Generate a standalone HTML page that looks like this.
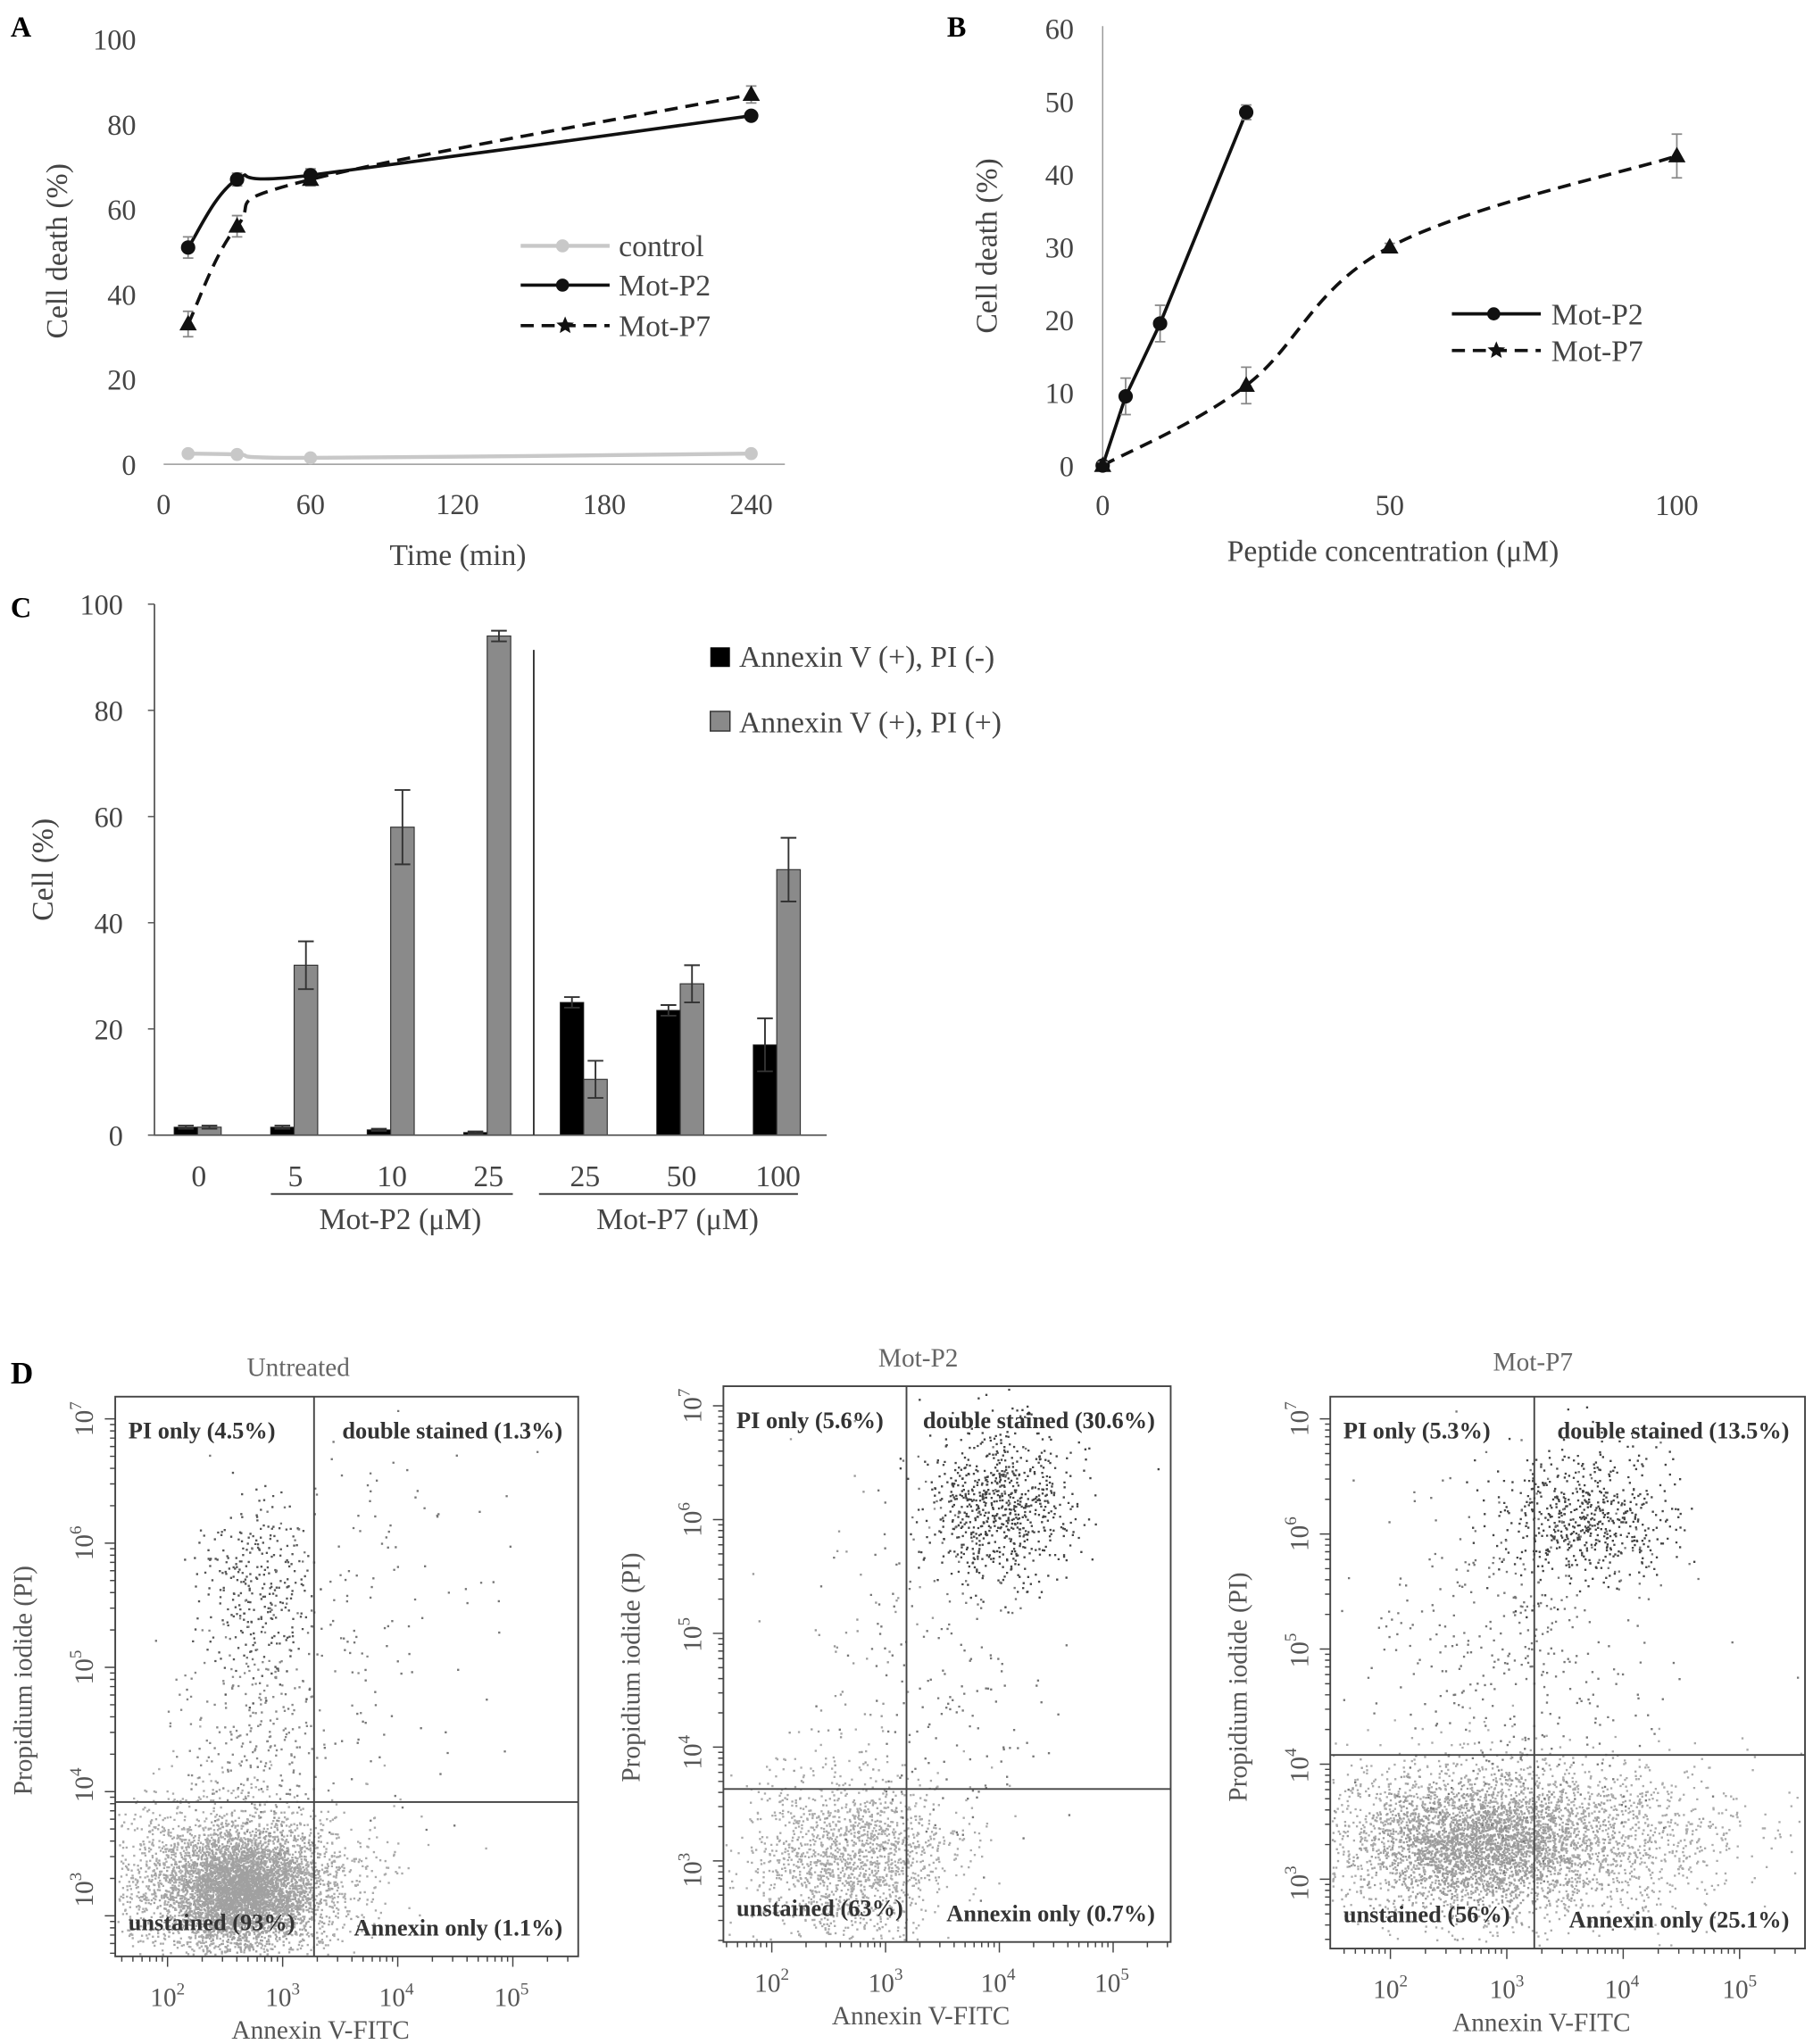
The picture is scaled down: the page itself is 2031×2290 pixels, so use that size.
<!DOCTYPE html>
<html><head><meta charset="utf-8"><style>
html,body{margin:0;padding:0;background:#fff}
svg{display:block}
text{font-family:"Liberation Serif",serif}
</style></head><body>
<svg id="fig" width="2031" height="2290" viewBox="0 0 1386 1563" xmlns="http://www.w3.org/2000/svg">
<g id="gA"></g>
<g id="gB"></g>
<g id="gC"></g>
<g id="gD"></g>
</svg>
<script>
// ---------- Panel A data ----------
const timeA = [10, 30, 60, 240];
const controlA = [2.5, 2.3, 1.5, 2.5];
const p2A = [51, 67, 68, 82];
const p7A = [33, 56, 67, 87];
const p2AErr = [2.5, 1.5, 1.5, 1];
const p7AErr = [3, 2.5, 1.5, 2];
const xTicksA = [0, 60, 120, 180, 240];
const yTicksA = [0, 20, 40, 60, 80, 100];
// ---------- Panel B data ----------
const concP2 = [0, 4, 10, 25];
const p2B = [0, 9.5, 19.5, 48.5];
const p2BErr = [0.5, 2.5, 2.5, 1];
const concP7 = [0, 25, 50, 100];
const p7B = [0, 11, 30, 42.5];
const p7BErr = [0.5, 2.5, 0.5, 3];
const xTicksB = [0, 50, 100];
const yTicksB = [0, 10, 20, 30, 40, 50, 60];
// ---------- Panel C data ----------
const catsC = ["0", "5", "10", "25", "25", "50", "100"];
const blackC = [1.5, 1.5, 1, 0.5, 25, 23.5, 17];
const blackCErr = [0.3, 0.3, 0.2, 0.2, 1, 1, 5];
const grayC = [1.5, 32, 58, 94, 10.5, 28.5, 50];
const grayCErr = [0.3, 4.5, 7, 1, 3.5, 3.5, 6];
const yTicksC = [0, 20, 40, 60, 80, 100];

const NS = "http://www.w3.org/2000/svg";
function el(parent, tag, attrs, txt) {
  const e = document.createElementNS(NS, tag);
  for (const k in attrs) e.setAttribute(k, attrs[k]);
  if (txt !== undefined) e.textContent = txt;
  parent.appendChild(e);
  return e;
}
function smooth(pts) {
  let d = "M" + pts[0][0] + "," + pts[0][1];
  for (let i = 0; i < pts.length - 1; i++) {
    const p0 = pts[i - 1] || pts[i], p1 = pts[i], p2 = pts[i + 1], p3 = pts[i + 2] || p2;
    const t = 0.18;
    const c1 = [p1[0] + (p2[0] - p0[0]) * t, p1[1] + (p2[1] - p0[1]) * t];
    const c2 = [p2[0] - (p3[0] - p1[0]) * t, p2[1] - (p3[1] - p1[1]) * t];
    d += " C" + c1 + " " + c2 + " " + p2;
  }
  return d;
}
function star(cx, cy, r) {
  let d = "";
  for (let i = 0; i < 10; i++) {
    const a = -Math.PI / 2 + i * Math.PI / 5, rr = i % 2 ? r * 0.45 : r;
    d += (i ? "L" : "M") + (cx + rr * Math.cos(a)).toFixed(1) + "," + (cy + rr * Math.sin(a)).toFixed(1);
  }
  return d + "Z";
}
function tri(cx, cy, r) { return `M${cx},${cy - r}L${cx + r * 0.95},${cy + r * 0.7}L${cx - r * 0.95},${cy + r * 0.7}Z`; }

// ================= Panel A =================
(function () {
  const g = document.getElementById("gA");
  const xA = v => 125 + v * 1.872, yA = v => 355 - v * 3.25;
  let t = el(g, "text", { x: 8, y: 28, "font-size": 22, "font-weight": "bold" }, "A");
   
  let ax = el(g, "line", { x1: 125, y1: 355, x2: 600, y2: 355, stroke: "#999", "stroke-width": 1 });
   
  yTicksA.forEach(v => {
    const e = el(g, "text", { x: 104, y: yA(v) + 8, "font-size": 22, "text-anchor": "end", fill: "#444" }, v);
     
  });
  xTicksA.forEach(v => {
    const e = el(g, "text", { x: xA(v), y: 393, "font-size": 22, "text-anchor": "middle", fill: "#444" }, v);
     
  });
  t = el(g, "text", { x: 350, y: 432, "font-size": 23, "text-anchor": "middle", fill: "#444" }, "Time (min)");
   
  t = el(g, "text", { x: 0, y: 0, "font-size": 23, "text-anchor": "middle", fill: "#444", transform: "translate(51,192) rotate(-90)" }, "Cell death (%)");
   

  const ptsC = timeA.map((v, i) => [xA(v), yA(controlA[i])]);
  let l = el(g, "path", { d: smooth(ptsC), fill: "none", stroke: "#c8c8c8", "stroke-width": 3 });
   
  ptsC.forEach(p => { const c = el(g, "circle", { cx: p[0], cy: p[1], r: 5, fill: "#c8c8c8" });   });

  const pts7 = timeA.map((v, i) => [xA(v), yA(p7A[i])]);
  l = el(g, "path", { d: smooth(pts7), fill: "none", stroke: "#111", "stroke-width": 2.5, "stroke-dasharray": "10,6" });
   
  const pts2 = timeA.map((v, i) => [xA(v), yA(p2A[i])]);
  l = el(g, "path", { d: smooth(pts2), fill: "none", stroke: "#111", "stroke-width": 2.5 });
   
  timeA.forEach((v, i) => {
    [[p2A, p2AErr], [p7A, p7AErr]].forEach(([s, e]) => {
      const x = xA(v), y1 = yA(s[i] + e[i]), y2 = yA(s[i] - e[i]);
      const b = el(g, "path", { d: `M${x},${y1}V${y2}M${x - 4},${y1}H${x + 4}M${x - 4},${y2}H${x + 4}`, stroke: "#888", "stroke-width": 1.2, fill: "none" });
       
    });
    const c = el(g, "circle", { cx: xA(v), cy: yA(p2A[i]), r: 5.5, fill: "#111" });
     
    const tr = el(g, "path", { d: tri(xA(v), yA(p7A[i]), 7), fill: "#111" });
     
  });
  const lg = el(g, "g", {});  
  el(lg, "line", { x1: 398, y1: 188, x2: 466, y2: 188, stroke: "#c8c8c8", "stroke-width": 3 });
  el(lg, "circle", { cx: 430, cy: 188, r: 5, fill: "#c8c8c8" });
  el(lg, "text", { x: 473, y: 196, "font-size": 23, fill: "#444" }, "control");
  el(lg, "line", { x1: 398, y1: 218, x2: 466, y2: 218, stroke: "#111", "stroke-width": 2.5 });
  el(lg, "circle", { cx: 430, cy: 218, r: 5, fill: "#111" });
  el(lg, "text", { x: 473, y: 226, "font-size": 23, fill: "#444" }, "Mot-P2");
  el(lg, "line", { x1: 398, y1: 249, x2: 466, y2: 249, stroke: "#111", "stroke-width": 2.5, "stroke-dasharray": "10,6" });
  el(lg, "path", { d: star(432, 249, 7), fill: "#111" });
  el(lg, "text", { x: 473, y: 257, "font-size": 23, fill: "#444" }, "Mot-P7");
})();

// ================= Panel B =================
(function () {
  const g = document.getElementById("gB");
  const xB = v => 843 + v * 4.39, yB = v => 356 - v * 5.57;
  let t = el(g, "text", { x: 724, y: 28, "font-size": 22, "font-weight": "bold" }, "B");
   
  let ax = el(g, "line", { x1: 843, y1: 20, x2: 843, y2: 356, stroke: "#999" });
   
  yTicksB.forEach(v => { const e = el(g, "text", { x: 821, y: yB(v) + 8, "font-size": 22, "text-anchor": "end", fill: "#444" }, v);   });
  xTicksB.forEach(v => { const e = el(g, "text", { x: xB(v), y: 394, "font-size": 22, "text-anchor": "middle", fill: "#444" }, v);   });
  t = el(g, "text", { x: 1065, y: 429, "font-size": 23, "text-anchor": "middle", fill: "#444" }, "Peptide concentration (μM)");
   
  t = el(g, "text", { x: 0, y: 0, "font-size": 23, "text-anchor": "middle", fill: "#444", transform: "translate(762,188) rotate(-90)" }, "Cell death (%)");
   
  const pts7 = concP7.map((v, i) => [xB(v), yB(p7B[i])]);
  let l = el(g, "path", { d: smooth(pts7), fill: "none", stroke: "#111", "stroke-width": 2.5, "stroke-dasharray": "10,6" });
   
  const pts2 = concP2.map((v, i) => [xB(v), yB(p2B[i])]);
  l = el(g, "path", { d: "M" + pts2.join("L"), fill: "none", stroke: "#111", "stroke-width": 2.5 });
   
  function eb(x, v, e) { const y1 = yB(v + e), y2 = yB(v - e); const b = el(g, "path", { d: `M${x},${y1}V${y2}M${x - 4},${y1}H${x + 4}M${x - 4},${y2}H${x + 4}`, stroke: "#888", "stroke-width": 1.2, fill: "none" });   }
  concP2.forEach((v, i) => { eb(xB(v), p2B[i], p2BErr[i]); const c = el(g, "circle", { cx: xB(v), cy: yB(p2B[i]), r: 5.5, fill: "#111" });   });
  concP7.forEach((v, i) => { eb(xB(v), p7B[i], p7BErr[i]); const c = el(g, "path", { d: tri(xB(v), yB(p7B[i]), 7), fill: "#111" });   });
  const lg = el(g, "g", {});  
  el(lg, "line", { x1: 1110, y1: 240, x2: 1178, y2: 240, stroke: "#111", "stroke-width": 2.5 });
  el(lg, "circle", { cx: 1142, cy: 240, r: 5, fill: "#111" });
  el(lg, "text", { x: 1186, y: 248, "font-size": 23, fill: "#444" }, "Mot-P2");
  el(lg, "line", { x1: 1110, y1: 268, x2: 1178, y2: 268, stroke: "#111", "stroke-width": 2.5, "stroke-dasharray": "10,6" });
  el(lg, "path", { d: star(1144, 268, 7), fill: "#111" });
  el(lg, "text", { x: 1186, y: 276, "font-size": 23, fill: "#444" }, "Mot-P7");
})();

// ================= Panel C =================
(function () {
  const g = document.getElementById("gC");
  const yC = v => 868 - v * 4.06;
  const xC = i => 152 + i * 73.8;
  let t = el(g, "text", { x: 8, y: 472, "font-size": 22, "font-weight": "bold" }, "C");
   
  yTicksC.forEach(v => {
    const e = el(g, "text", { x: 94, y: yC(v) + 8, "font-size": 22, "text-anchor": "end", fill: "#444" }, v);  
    const tk = el(g, "line", { x1: 113, y1: yC(v), x2: 118, y2: yC(v), stroke: "#555" });  
  });
  t = el(g, "text", { x: 0, y: 0, "font-size": 23, "text-anchor": "middle", fill: "#444", transform: "translate(40,665) rotate(-90)" }, "Cell (%)");
   
  catsC.forEach((c, i) => {
    const x = xC(i);
    const b1 = el(g, "rect", { x: x - 19, y: yC(blackC[i]), width: 18, height: yC(0) - yC(blackC[i]), fill: "#000", stroke: "#222", "stroke-width": 0.6 });
     
    const b2 = el(g, "rect", { x: x - 1, y: yC(grayC[i]), width: 18, height: yC(0) - yC(grayC[i]), fill: "#8a8a8a", stroke: "#333", "stroke-width": 0.8 });
     
    [[x - 10, blackC[i], blackCErr[i]], [x + 8, grayC[i], grayCErr[i]]].forEach(([ex, v, e]) => {
      const y1 = yC(v + e), y2 = yC(v - e);
      const p = el(g, "path", { d: `M${ex},${y1}V${y2}M${ex - 6},${y1}H${ex + 6}M${ex - 6},${y2}H${ex + 6}`, stroke: "#333", "stroke-width": 1.3, fill: "none" });
       
    });
    const lbl = el(g, "text", { x: x, y: 907, "font-size": 23, "text-anchor": "middle", fill: "#444" }, c);
     
  });
  let a = el(g, "path", { d: "M118,462V868H632", stroke: "#555", fill: "none", "stroke-width": 1.2 });
   
  a = el(g, "line", { x1: 408, y1: 497, x2: 408, y2: 868, stroke: "#333", "stroke-width": 1.3 });
   
  a = el(g, "line", { x1: 207, y1: 913, x2: 392, y2: 913, stroke: "#333", "stroke-width": 1.3 });  
  a = el(g, "line", { x1: 412, y1: 913, x2: 610, y2: 913, stroke: "#333", "stroke-width": 1.3 });  
  t = el(g, "text", { x: 306, y: 940, "font-size": 23, "text-anchor": "middle", fill: "#444" }, "Mot-P2 (μM)");  
  t = el(g, "text", { x: 518, y: 940, "font-size": 23, "text-anchor": "middle", fill: "#444" }, "Mot-P7 (μM)");  
  const lg = el(g, "g", {});  
  el(lg, "rect", { x: 543, y: 495, width: 15, height: 15, fill: "#000" });
  el(lg, "text", { x: 565, y: 510, "font-size": 23, fill: "#444" }, "Annexin V (+), PI (-)");
  el(lg, "rect", { x: 543, y: 544, width: 15, height: 15, fill: "#8a8a8a", stroke: "#333" });
  el(lg, "text", { x: 565, y: 560, "font-size": 23, fill: "#444" }, "Annexin V (+), PI (+)");
})();

// ================= Panel D (flow cytometry) =================
(function () {
  const g = document.getElementById("gD");
  let t = el(g, "text", { x: 8, y: 1058, "font-size": 24, "font-weight": "bold" }, "D");
   
  let seed = 12345;
  function rnd() { seed = (seed * 1103515245 + 12345) % 2147483648; return seed / 2147483648; }
  function gauss() { let u = rnd() || 1e-6, v = rnd(); return Math.sqrt(-2 * Math.log(u)) * Math.cos(2 * Math.PI * v); }
  const plots = [
    { title: "Untreated", tx: 228, ty: 1052, x0: 88, x1: 442, y0: 1068, y1: 1496, qx: 240, qy: 1378,
      xt: [128, 216, 303, 391], yt: [1085, 1180, 1275, 1365, 1445], ylab: 1285,
      q: ["PI only (4.5%)", "double stained (1.3%)", "unstained (93%)", "Annexin only (1.1%)"],
      cl: [[178, 1440, 45, 30, 3600, "#aaa"], [185, 1445, 25, 18, 2500, "#a0a0a0"], [195, 1215, 20, 35, 300, "#555"], [280, 1240, 55, 75, 150, "#777"], [195, 1320, 28, 40, 250, "#888"]] },
    { title: "Mot-P2", tx: 702, ty: 1045, x0: 553, x1: 895, y0: 1060, y1: 1485, qx: 693, qy: 1368,
      xt: [590, 677, 763, 850], yt: [1075, 1162, 1250, 1340, 1430], ylab: 1275,
      q: ["PI only (5.6%)", "double stained (30.6%)", "unstained (63%)", "Annexin only (0.7%)"],
      cl: [[650, 1420, 38, 32, 1600, "#aaa"], [765, 1150, 28, 30, 750, "#444"], [720, 1280, 40, 80, 180, "#777"], [640, 1260, 35, 90, 70, "#999"]] },
    { title: "Mot-P7", tx: 1172, ty: 1048, x0: 1017, x1: 1380, y0: 1068, y1: 1490, qx: 1173, qy: 1342,
      xt: [1063, 1152, 1240, 1330], yt: [1085, 1173, 1262, 1350, 1440], ylab: 1290,
      q: ["PI only (5.3%)", "double stained (13.5%)", "unstained (56%)", "Annexin only (25.1%)"],
      cl: [[1150, 1405, 80, 30, 3300, "#aaa"], [1130, 1410, 40, 22, 1600, "#9a9a9a"], [1210, 1160, 35, 25, 600, "#444"], [1160, 1260, 60, 65, 400, "#777"]] }
  ];
  plots.forEach((p, pi) => {
    const pg = el(g, "g", {});  
    const tt = el(pg, "text", { x: p.tx, y: p.ty, "font-size": 20, "text-anchor": "middle", fill: "#666" }, p.title);
     
    p.cl.forEach(c => {
      let d = "";
      for (let k = 0; k < c[4]; k++) {
        const x = c[0] + gauss() * c[2], y = c[1] + gauss() * c[3];
        if (x < p.x0 + 1 || x > p.x1 - 2 || y < p.y0 + 1 || y > p.y1 - 2) continue;
        d += "M" + x.toFixed(1) + "," + y.toFixed(1) + "h1.6v1.6h-1.6z";
      }
      const s = el(pg, "path", { d: d, fill: c[5] });
       
    });
    const box = el(pg, "rect", { x: p.x0, y: p.y0, width: p.x1 - p.x0, height: p.y1 - p.y0, fill: "none", stroke: "#444", "stroke-width": 1.3 });
     
    const ql = el(pg, "path", { d: `M${p.qx},${p.y0}V${p.y1}M${p.x0},${p.qy}H${p.x1}`, stroke: "#444", "stroke-width": 1.3 });
     
    let tk = "";
    const dx = p.xt[1] - p.xt[0];
    for (let dec = -1; dec < 5; dec++) for (let m = 1; m < 10; m++) {
      const x = p.xt[0] + (dec + Math.log10(m)) * dx;
      if (x < p.x0 || x > p.x1) continue;
      tk += `M${x.toFixed(1)},${p.y1}v${m === 1 ? 8 : 4}`;
    }
    const dy = p.yt[1] - p.yt[0];
    for (let dec = -1; dec < 5; dec++) for (let m = 1; m < 10; m++) {
      const y = p.yt[0] + (dec + 1 - Math.log10(m)) * dy;
      if (y < p.y0 || y > p.y1) continue;
      tk += `M${p.x0},${y.toFixed(1)}h${m === 1 ? -8 : -4}`;
    }
    const tks = el(pg, "path", { d: tk, stroke: "#444", "stroke-width": 1 });  
    p.xt.forEach((x, i) => {
      const e = el(pg, "text", { x: x, y: p.y1 + 38, "font-size": 20, "text-anchor": "middle", fill: "#555" });
       
      e.textContent = "10"; el(e, "tspan", { dy: -9, "font-size": 13 }, String(i + 2));
    });
    p.yt.forEach((y, i) => {
      const e = el(pg, "text", { x: 0, y: 0, "font-size": 20, "text-anchor": "middle", fill: "#555", transform: `translate(${p.x0 - 17},${y}) rotate(-90)` });
       
      e.textContent = "10"; el(e, "tspan", { dy: -9, "font-size": 13 }, String(7 - i));
    });
    const xl = el(pg, "text", { x: (p.x0 + p.x1) / 2 - 20, y: p.y1 + 63, "font-size": 20, "text-anchor": "middle", fill: "#555" }, "Annexin V-FITC");
     
    const yl = el(pg, "text", { x: 0, y: 0, "font-size": 20, "text-anchor": "middle", fill: "#555", transform: `translate(${p.x0 - 64},${p.ylab}) rotate(-90)` }, "Propidium iodide (PI)");
     
    const pos = [[p.x0 + 10, p.y0 + 32, "start"], [p.x1 - 12, p.y0 + 32, "end"], [p.x0 + 10, p.y1 - 20, "start"], [p.x1 - 12, p.y1 - 16, "end"]];
    p.q.forEach((q, i) => {
      const e = el(pg, "text", { x: pos[i][0], y: pos[i][1], "font-size": 18, "font-weight": "bold", "text-anchor": pos[i][2], fill: "#333" }, q);
       
    });
  });
})();
</script>
</body></html>
